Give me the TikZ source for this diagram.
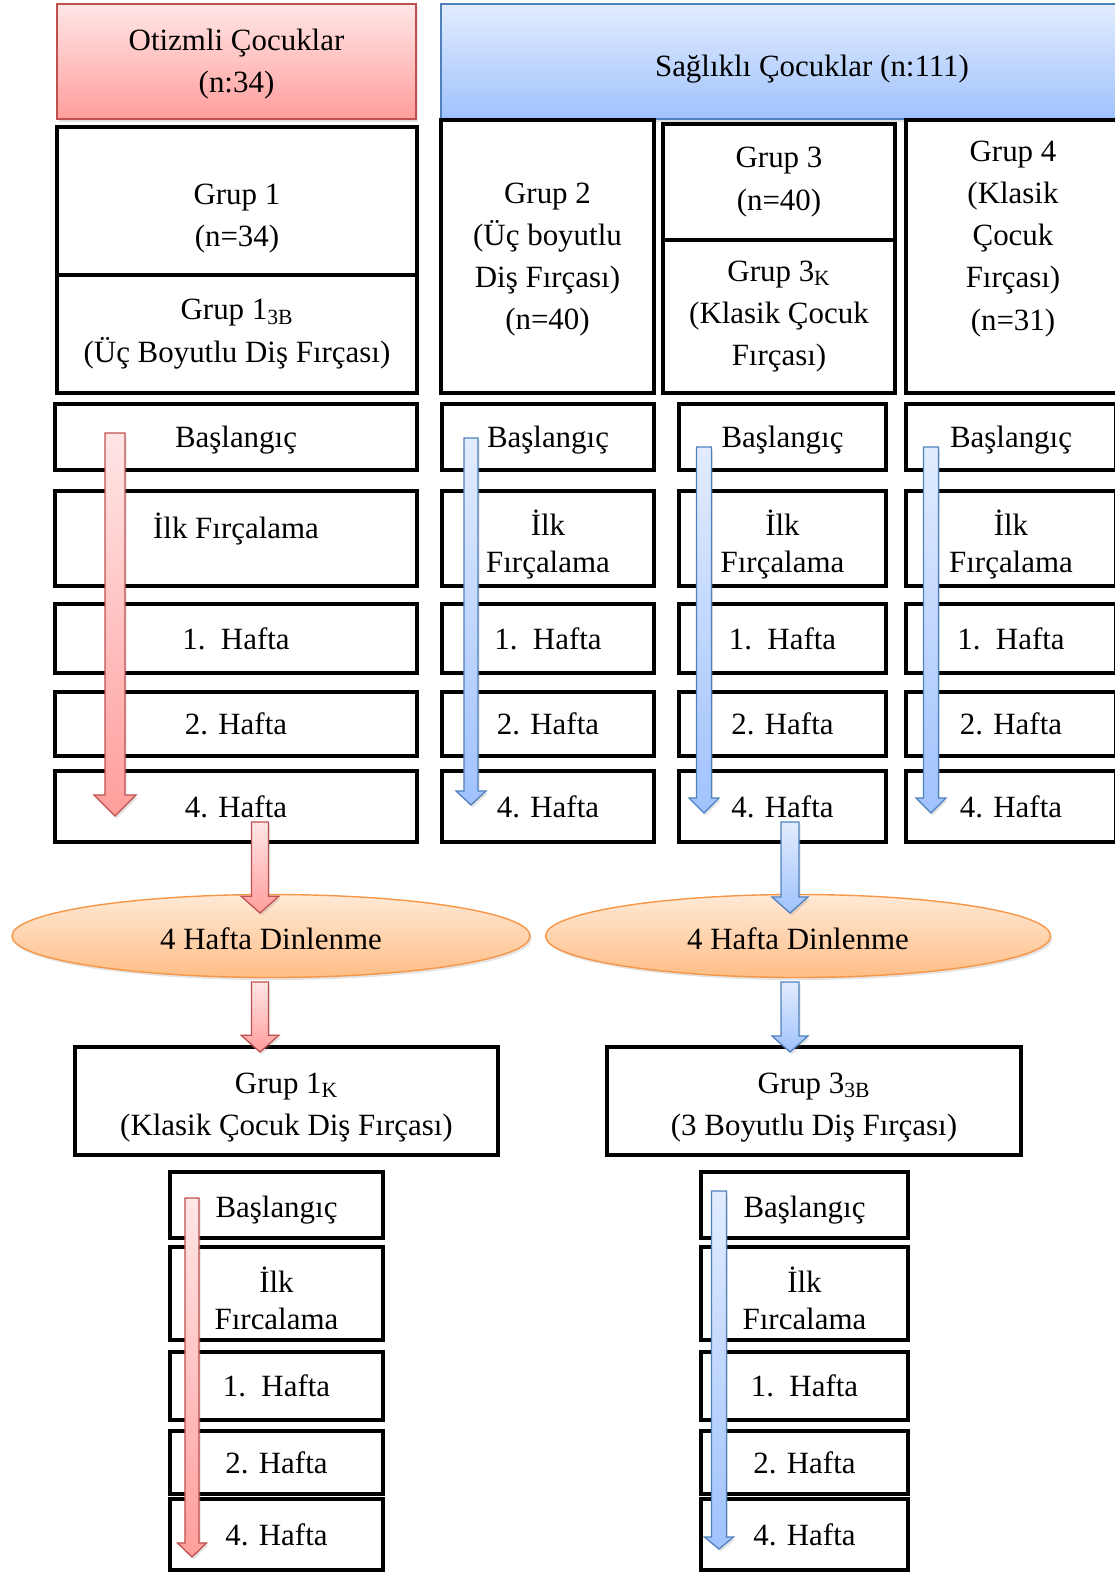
\documentclass[tikz,border=0pt]{standalone}
\usepackage{fontspec}
\setmainfont{Liberation Serif}
\usetikzlibrary{shapes.geometric,shadows,calc}

\definecolor{redline}{HTML}{C0504D}
\definecolor{redtop}{HTML}{FFE6E6}
\definecolor{redbot}{HTML}{FF9E9C}
\definecolor{blueline}{HTML}{4F81BD}
\definecolor{bluetop}{HTML}{E2ECFE}
\definecolor{bluebot}{HTML}{A0C2FD}
\definecolor{orline}{HTML}{F79646}
\definecolor{ortop}{HTML}{FFE9D6}
\definecolor{orbot}{HTML}{FFBE86}

\tikzset{
  box/.style={draw, line width=2.8pt, align=center, inner sep=0pt},
  softshadow/.style={drop shadow={opacity=0.22, shadow xshift=1.2pt, shadow yshift=-1.8pt}},
  redhead/.style={draw=redline, line width=1pt, top color=redtop, bottom color=redbot,
    align=center, inner sep=0pt, softshadow},
  bluehead/.style={draw=blueline, line width=1pt, top color=bluetop, bottom color=bluebot,
    align=center, inner sep=0pt, softshadow},
  rest/.style={ellipse, draw=orline, line width=1pt, top color=ortop, bottom color=orbot,
    inner sep=0pt, softshadow},
  redarrow/.style={draw=redline, line width=0.9pt, top color=redtop, bottom color=redbot, softshadow},
  bluearrow/.style={draw=blueline, line width=0.9pt, top color=bluetop, bottom color=bluebot, softshadow}
}

% block arrow: style, from, to, shaft half width, head half width, head length
\newcommand{\fatarrow}[6]{%
  \path[#1] let \p1=(#2), \p2=(#3) in
    (\x1-#4,\y1) -- (\x1+#4,\y1) -- (\x1+#4,\y2+#6) -- (\x1+#5,\y2+#6) --
    (\x1,\y2) -- (\x1-#5,\y2+#6) -- (\x1-#4,\y2+#6) -- cycle;}

\begin{document}
\begin{tikzpicture}[x=0.025cm, y=-0.025cm,
    every node/.style={font=\fontsize{22}{30}\selectfont}]

  \useasboundingbox (0,0) rectangle (1115,1573);
  \clip (0,0) rectangle (1115,1573);

  % headers
  \node[redhead, minimum width=8.975cm, minimum height=2.875cm, text height=48.8pt] (otz) at (236.5,61.5) {Otizmli Çocuklar\\(n:34)};
  \node[bluehead, minimum width=18.55cm, minimum height=2.875cm, text height=26.4pt, text depth=5pt] (sag) at (812,61.5) {Sağlıklı Çocuklar (n:111)};

  % groups
  \node[box, minimum width=9cm, minimum height=3.7cm, text height=69.8pt] (g1) at (237,201) {Grup 1\\(n=34)};
  \node[box, minimum width=9cm, minimum height=2.95cm] (g1b) at (237,334) {Grup 1\textsubscript{3B}\\(Üç Boyutlu Diş Fırçası)};
  \node[box, minimum width=5.325cm, minimum height=6.825cm, text height=108.8pt] (g2) at (547.5,256.5) {Grup 2\\(Üç boyutlu\\Diş Fırçası)\\(n=40)};
  \node[box, minimum width=5.8cm, minimum height=2.9cm] (g3) at (779,182) {Grup 3\\(n=40)};
  \node[box, minimum width=5.8cm, minimum height=3.825cm] (g3k) at (779,316.5) {Grup 3\textsubscript{K}\\(Klasik Çocuk\\Fırçası)};
  \node[box, minimum width=5.35cm, minimum height=6.825cm] (g4) at (1013,256.5) {Grup 4\\(Klasik\\Çocuk\\Fırçası)\\(n=31)\\~};

  % weekly rows
  \foreach \c/\x/\w in {1/236/9.05, 2/548/5.3, 3/782.5/5.175, 4/1011/5.25} {
    \node[box, minimum width=\w cm, minimum height=1.65cm, text height=19.2pt, text depth=4.8pt] (b\c) at (\x,437) {Başlangıç};
    \node[box, minimum width=\w cm, minimum height=2.375cm, text height=52.6pt] (i\c) at (\x,538.5)
      {\ifnum\c=1 İlk Fırçalama\\[-4pt]~\else İlk\\[-4pt]Fırçalama\fi};
    \node[box, minimum width=\w cm, minimum height=1.725cm] (wa\c) at (\x,638.5) {1.\ \ Hafta};
    \node[box, minimum width=\w cm, minimum height=1.6cm]   (wb\c) at (\x,724)   {2. Hafta};
    \node[box, minimum width=\w cm, minimum height=1.775cm] (wd\c) at (\x,806.5) {4. Hafta};
  }

  % rest periods
  \node[rest, minimum width=12.95cm, minimum height=2.075cm, text height=19.2pt, text depth=0pt] (dl) at (271,936) {4 Hafta Dinlenme};
  \node[rest, minimum width=12.625cm, minimum height=2.075cm, text height=19.2pt, text depth=0pt] (dr) at (798,936) {4 Hafta Dinlenme};

  % crossover groups
  \node[box, minimum width=10.575cm, minimum height=2.7cm, text height=53.6pt] (g1k) at (286.5,1101) {Grup 1\textsubscript{K}\\(Klasik Çocuk Diş Fırçası)};
  \node[box, minimum width=10.35cm, minimum height=2.7cm, text height=53.6pt] (g33) at (814,1101) {Grup 3\textsubscript{3B}\\(3 Boyutlu Diş Fırçası)};

  \foreach \c/\x/\w in {L/276.5/5.325, R/804.5/5.175} {
    \node[box, minimum width=\w cm, minimum height=1.65cm, text height=22.1pt, text depth=4.8pt] (b\c) at (\x,1205) {Başlangıç};
    \node[box, minimum width=\w cm, minimum height=2.325cm, text height=51.2pt] (i\c) at (\x,1293.5) {İlk\\[-4pt]Fırcalama};
    \node[box, minimum width=\w cm, minimum height=1.7cm]   (wa\c) at (\x,1386)   {1.\ \ Hafta};
    \node[box, minimum width=\w cm, minimum height=1.575cm] (wb\c) at (\x,1462.5) {2. Hafta};
    \node[box, minimum width=\w cm, minimum height=1.775cm] (wd\c) at (\x,1534.5) {4. Hafta};
  }

  % arrow ends
  \coordinate (r1) at (115,433);  \coordinate (r2) at (115,816);
  \coordinate (s1) at (471,438);  \coordinate (s2) at (471,805);
  \coordinate (t1) at (704,447);  \coordinate (t2) at (704,813);
  \coordinate (u1) at (931,447);  \coordinate (u2) at (931,813);
  \coordinate (ra) at (260,822);  \coordinate (rb) at (260,913);
  \coordinate (rc) at (260,982);  \coordinate (rd) at (260,1052);
  \coordinate (ba) at (790,822);  \coordinate (bb) at (790,913);
  \coordinate (bc) at (790,982);  \coordinate (bd) at (790,1052);
  \coordinate (lr1) at (192,1198); \coordinate (lr2) at (192,1557);
  \coordinate (lb1) at (719,1191); \coordinate (lb2) at (719,1549);

  \fatarrow{redarrow}{r1}{r2}{7.1pt}{15pt}{15pt}
  \fatarrow{bluearrow}{s1}{s2}{5pt}{10.7pt}{10pt}
  \fatarrow{bluearrow}{t1}{t2}{5.3pt}{10.7pt}{10.7pt}
  \fatarrow{bluearrow}{u1}{u2}{5.3pt}{10.7pt}{10.7pt}
  \fatarrow{redarrow}{ra}{rb}{6pt}{13.5pt}{12pt}
  \fatarrow{redarrow}{rc}{rd}{6pt}{13.5pt}{12pt}
  \fatarrow{bluearrow}{ba}{bb}{6.4pt}{12.8pt}{11.4pt}
  \fatarrow{bluearrow}{bc}{bd}{6.4pt}{12.8pt}{11.4pt}
  \fatarrow{redarrow}{lr1}{lr2}{5pt}{10.3pt}{10pt}
  \fatarrow{bluearrow}{lb1}{lb2}{5.3pt}{10.3pt}{8.5pt}

\end{tikzpicture}
\end{document}
